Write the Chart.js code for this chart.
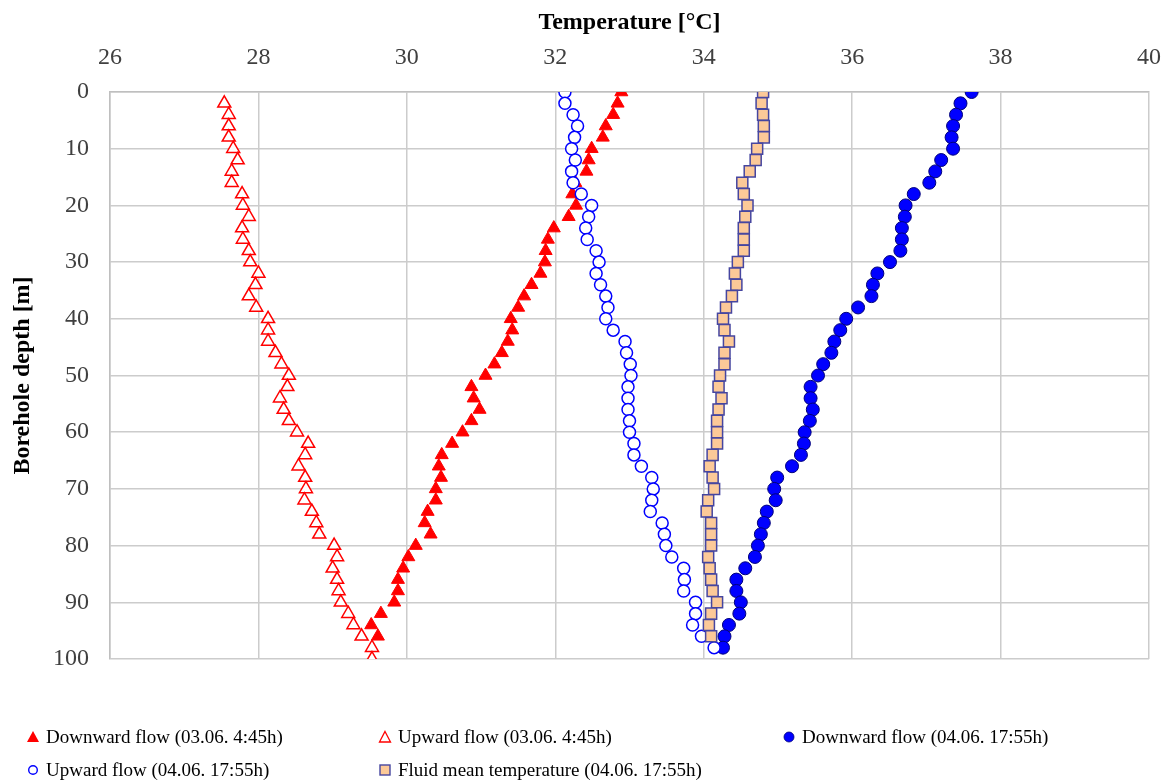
<!DOCTYPE html>
<html>
<head>
<meta charset="utf-8">
<script src="https://cdn.jsdelivr.net/npm/chart.js@4.4.1/dist/chart.umd.min.js"></script>
<style>
  body { margin: 0; background: #fff; }
  #wrap { position: relative; width: 1166px; height: 780px; }
  #legend { position: absolute; left: 0; top: 0; width: 1166px; height: 780px; pointer-events: none;
            font-family: "Liberation Serif", "Times New Roman", serif; font-size: 19px; color: #000; }
  .item { position: absolute; white-space: nowrap; line-height: 22px; padding-left: 20px; }
  .item svg { position: absolute; left: 0; top: 4px; }
</style>
</head>
<body>
<div id="wrap">
  <canvas id="chart"></canvas>
  <div id="legend"></div>
</div>
<script>
const seriesNames = [
  "Downward flow (03.06. 4:45h)",
  "Upward flow (03.06. 4:45h)",
  "Downward flow (04.06. 17:55h)",
  "Upward flow (04.06. 17:55h)",
  "Fluid mean temperature (04.06. 17:55h)"
];

// depth [m] of each reading
const depthDown0306 = [0, 2, 4, 6, 8, 10, 12, 14, 16, 18, 20, 22, 24, 26, 28, 30, 32, 34, 36, 38, 40, 42, 44, 46, 48,
  50, 52, 54, 56, 58, 60, 62, 64, 66, 68, 70, 72, 74, 76, 78, 80, 82, 84, 86, 88, 90, 92, 94, 96];
const depthUp0306 = [2, 4, 6, 8, 10, 12, 14, 16, 18, 20, 22, 24, 26, 28, 30, 32, 34, 36, 38, 40, 42, 44, 46, 48, 50,
  52, 54, 56, 58, 60, 62, 64, 66, 68, 70, 72, 74, 76, 78, 80, 82, 84, 86, 88, 90, 92, 94, 96, 98, 100];
const depth0406 = [0, 2, 4, 6, 8, 10, 12, 14, 16, 18, 20, 22, 24, 26, 28, 30, 32, 34, 36, 38, 40, 42, 44, 46, 48,
  50, 52, 54, 56, 58, 60, 62, 64, 66, 68, 70, 72, 74, 76, 78, 80, 82, 84, 86, 88, 90, 92, 94, 96, 98];
const depthFluid = [0, 2, 4, 6, 8, 10, 12, 14, 16, 18, 20, 22, 24, 26, 28, 30, 32, 34, 36, 38, 40, 42, 44, 46, 48,
  50, 52, 54, 56, 58, 60, 62, 64, 66, 68, 70, 72, 74, 76, 78, 80, 82, 84, 86, 88, 90, 92, 94, 96];

// temperature [°C]
const tempDown0306 = [32.89, 32.84, 32.78, 32.68, 32.64, 32.49, 32.45, 32.42, 32.27, 32.23, 32.28, 32.18, 31.98, 31.90,
  31.87, 31.86, 31.80, 31.68, 31.58, 31.50, 31.40, 31.42, 31.36, 31.28, 31.18, 31.06, 30.87, 30.90, 30.98, 30.87,
  30.75, 30.61, 30.47, 30.43, 30.46, 30.39, 30.39, 30.28, 30.24, 30.32, 30.12, 30.02, 29.95, 29.88, 29.88, 29.83,
  29.65, 29.52, 29.61];
const tempUp0306 = [27.54, 27.60, 27.60, 27.60, 27.66, 27.72, 27.64, 27.64, 27.78, 27.79, 27.87, 27.78, 27.79, 27.87,
  27.89, 28.00, 27.96, 27.87, 27.97, 28.13, 28.13, 28.13, 28.23, 28.31, 28.41, 28.39, 28.29, 28.34, 28.41, 28.52,
  28.67, 28.63, 28.54, 28.63, 28.64, 28.62, 28.72, 28.78, 28.82, 29.02, 29.06, 29.00, 29.06, 29.08, 29.11, 29.21,
  29.28, 29.39, 29.53, 29.53];
const tempDown0406 = [37.61, 37.46, 37.40, 37.36, 37.34, 37.36, 37.20, 37.12, 37.04, 36.83, 36.72, 36.71, 36.67, 36.67,
  36.65, 36.51, 36.34, 36.28, 36.26, 36.08, 35.92, 35.84, 35.76, 35.72, 35.61, 35.54, 35.44, 35.44, 35.47, 35.43,
  35.36, 35.35, 35.31, 35.19, 34.99, 34.95, 34.97, 34.85, 34.81, 34.77, 34.73, 34.69, 34.56, 34.44, 34.44, 34.50,
  34.48, 34.34, 34.28, 34.26];
const tempUp0406 = [32.13, 32.13, 32.24, 32.30, 32.26, 32.22, 32.27, 32.22, 32.24, 32.35, 32.49, 32.45, 32.41, 32.43,
  32.55, 32.59, 32.55, 32.61, 32.68, 32.71, 32.68, 32.78, 32.94, 32.96, 33.01, 33.02, 32.98, 32.98, 32.98, 33.00,
  33.00, 33.06, 33.06, 33.16, 33.30, 33.32, 33.30, 33.28, 33.44, 33.47, 33.49, 33.57, 33.73, 33.74, 33.73, 33.89,
  33.89, 33.85, 33.97, 34.14];
const tempFluid = [34.80, 34.78, 34.80, 34.81, 34.81, 34.72, 34.70, 34.62, 34.52, 34.54, 34.59, 34.56, 34.54, 34.54,
  34.54, 34.46, 34.42, 34.44, 34.38, 34.30, 34.26, 34.28, 34.34, 34.28, 34.28, 34.22, 34.20, 34.24, 34.20, 34.18,
  34.18, 34.18, 34.12, 34.08, 34.12, 34.14, 34.06, 34.04, 34.10, 34.10, 34.10, 34.06, 34.08, 34.10, 34.12, 34.18,
  34.10, 34.07, 34.10];

const xTitle = "Temperature [°C]";
const yTitle = "Borehole depth [m]";

function pts(temps, depths) {
  return temps.map((t, i) => ({ x: t, y: depths[i] }));
}

const serif = "'Liberation Serif', 'Times New Roman', serif";

const datasets = [
  { label: seriesNames[0], data: pts(tempDown0306, depthDown0306), pointStyle: 'triangle', pointRadius: 7.5,
    backgroundColor: '#ff0000', borderColor: '#ff0000', borderWidth: 1, order: 5 },
  { label: seriesNames[1], data: pts(tempUp0306, depthUp0306), pointStyle: 'triangle', pointRadius: 7.5,
    backgroundColor: '#ffffff', borderColor: '#ff0000', borderWidth: 1.5, order: 4 },
  { label: seriesNames[2], data: pts(tempDown0406, depth0406), pointStyle: 'circle', pointRadius: 6.5,
    backgroundColor: '#0000ff', borderColor: '#00007a', borderWidth: 1, order: 3 },
  { label: seriesNames[3], data: pts(tempUp0406, depth0406), pointStyle: 'circle', pointRadius: 6,
    backgroundColor: '#ffffff', borderColor: '#0000ff', borderWidth: 1.5, order: 2 },
  { label: seriesNames[4], data: pts(tempFluid, depthFluid), pointStyle: 'rect', pointRadius: 7.8,
    backgroundColor: '#fcc998', borderColor: '#4646a0', borderWidth: 1.5, order: 1 }
];

new Chart(document.getElementById('chart'), {
  type: 'scatter',
  data: { datasets: datasets },
  options: {
    responsive: true,
    maintainAspectRatio: false,
    animation: false,
    layout: { padding: { left: 0, right: 17, top: 0, bottom: 121 } },
    plugins: { legend: { display: false }, tooltip: { enabled: false } },
    scales: {
      x: {
        type: 'linear', position: 'top', min: 26, max: 40,
        ticks: { stepSize: 2, padding: 20, color: '#404040', font: { family: serif, size: 24 } },
        grid: { color: '#cccccc', lineWidth: 1.5, drawTicks: false },
        border: { color: '#bfbfbf', width: 1.5 },
        title: { display: true, text: xTitle, color: '#000', padding: { top: 8, bottom: 0 },
                 font: { family: serif, size: 24, weight: 'bold' } },
        afterFit: s => { s.height = 92; s.paddingLeft = 0; s.paddingRight = 0; }
      },
      y: {
        type: 'linear', reverse: true, min: 0, max: 100,
        ticks: { stepSize: 10, padding: 21, color: '#404040', font: { family: serif, size: 24 } },
        grid: { color: '#cccccc', lineWidth: 1.5, drawTicks: false },
        border: { color: '#bfbfbf', width: 1.5 },
        title: { display: true, text: yTitle, color: '#000', padding: { top: 8, bottom: 0 },
                 font: { family: serif, size: 24, weight: 'bold' } },
        afterFit: s => { s.width = 110; s.paddingTop = 0; s.paddingBottom = 0; }
      }
    }
  }
});

// legend laid out in three columns like the original
const legendPos = [[33, 737], [385, 737], [789, 737], [33, 770], [385, 770]];
const markers = [
  '<svg width="14" height="14"><polygon points="7,1 13,12 1,12" fill="#ff0000"/></svg>',
  '<svg width="14" height="14"><polygon points="7,1.5 12.5,12 1.5,12" fill="#fff" stroke="#ff0000" stroke-width="1.3"/></svg>',
  '<svg width="14" height="14"><circle cx="7" cy="7" r="5" fill="#0000ff" stroke="#00007a" stroke-width="0.8"/></svg>',
  '<svg width="14" height="14"><circle cx="7" cy="7" r="4.3" fill="#fff" stroke="#0000ff" stroke-width="1.4"/></svg>',
  '<svg width="14" height="14"><rect x="2" y="2" width="10" height="10" fill="#fcc998" stroke="#4646a0" stroke-width="1.4"/></svg>'
];
const legend = document.getElementById('legend');
seriesNames.forEach((name, i) => {
  const [cx, cy] = legendPos[i];
  const el = document.createElement('div');
  el.className = 'item';
  el.style.left = (cx - 7) + 'px';
  el.style.top = (cy - 11) + 'px';
  el.innerHTML = markers[i] + '<span>' + name + '</span>';
  legend.appendChild(el);
});
</script>
</body>
</html>
